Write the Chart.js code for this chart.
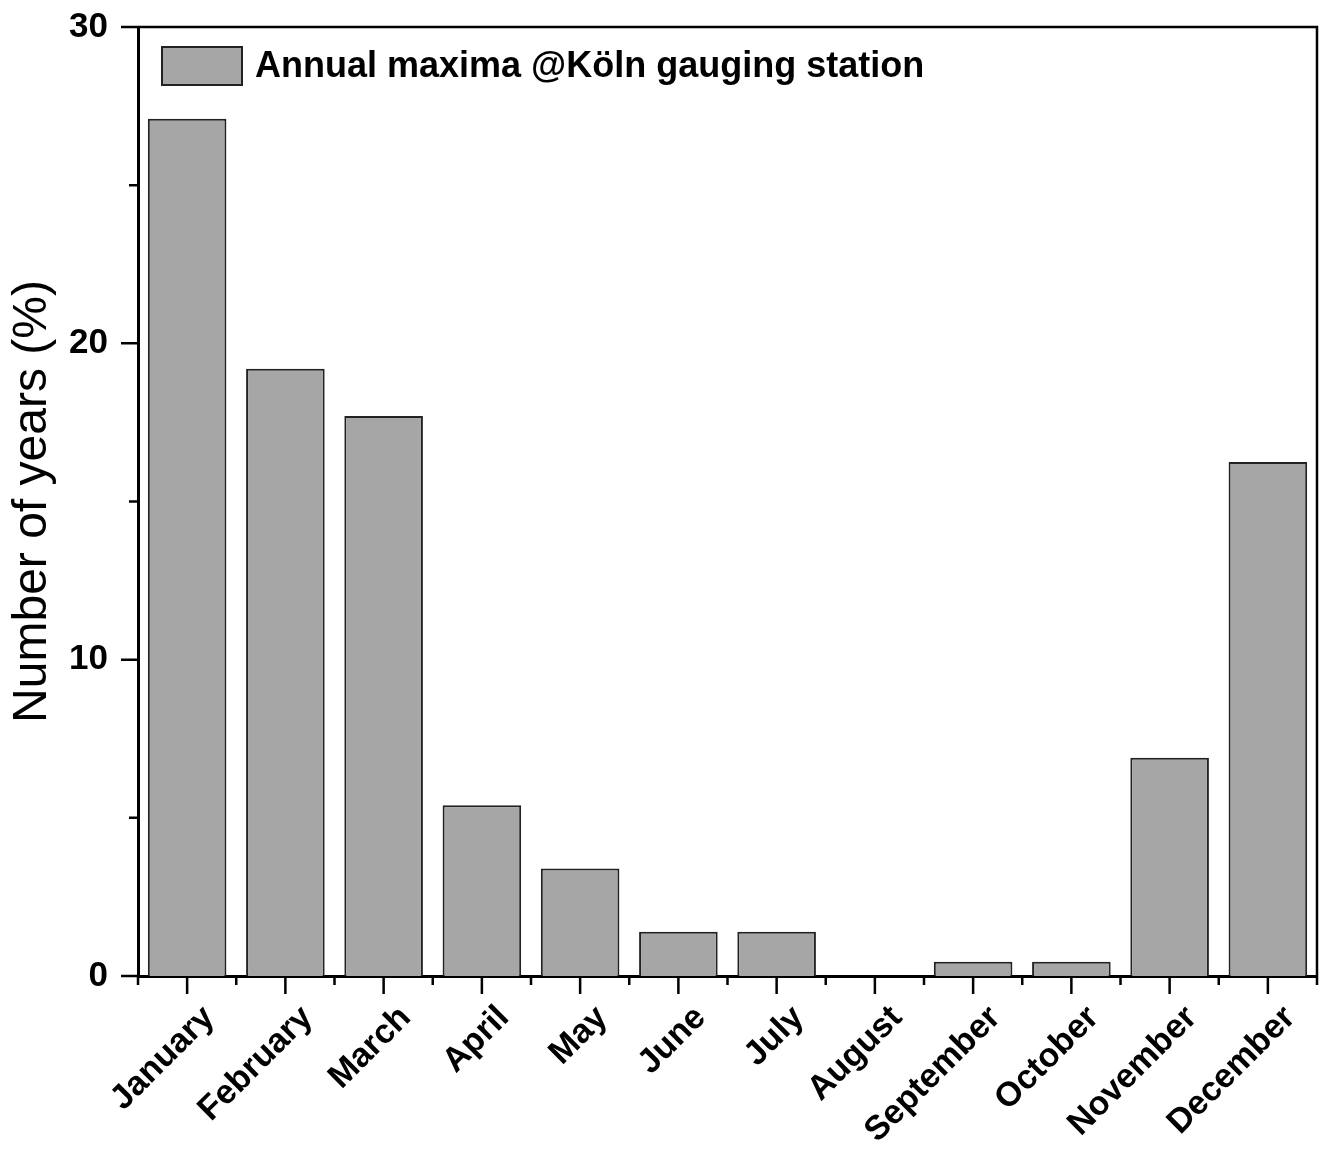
<!DOCTYPE html>
<html>
<head>
<meta charset="utf-8">
<script src="https://cdn.jsdelivr.net/npm/chart.js@4"></script>
<style>
  html, body { margin: 0; padding: 0; background: #fff; }
  #wrap { width: 1323px; height: 1149px; }
</style>
</head>
<body>
<div id="wrap"><canvas id="chart" width="1323" height="1149"></canvas></div>
<script>
// données
const months = ['January', 'February', 'March', 'April', 'May', 'June',
                'July', 'August', 'September', 'October', 'November', 'December'];
const shares = [27.1, 19.2, 17.7, 5.4, 3.4, 1.4, 1.4, 0, 0.45, 0.45, 6.9, 16.25];
const seriesLabel = 'Annual maxima @Köln gauging station';
const yMajorTicks = [0, 10, 20, 30];
const yMinorTicks = [5, 15, 25];

const FONT = "'Liberation Sans', Arial, Helvetica, sans-serif";

// axes façon Origin : cadre, graduations majeures / mineures vers l'extérieur
const frameTicks = {
    id: 'frameTicks',
    afterDraw(chart) {
        const ctx = chart.ctx;
        const a = chart.chartArea;
        const x = chart.scales.x;
        const y = chart.scales.y;
        ctx.save();
        ctx.strokeStyle = '#000';
        ctx.lineCap = 'butt';

        // cadre haut et droit
        ctx.lineWidth = 2.5;
        ctx.beginPath();
        ctx.moveTo(a.left, a.top);
        ctx.lineTo(a.right, a.top);
        ctx.lineTo(a.right, a.bottom);
        ctx.stroke();

        ctx.beginPath();
        // graduations Y
        yMajorTicks.forEach(v => {
            const p = y.getPixelForValue(v);
            ctx.moveTo(a.left - 17, p);
            ctx.lineTo(a.left, p);
        });
        yMinorTicks.forEach(v => {
            const p = y.getPixelForValue(v);
            ctx.moveTo(a.left - 9, p);
            ctx.lineTo(a.left, p);
        });
        // graduations X : majeures au centre, mineures aux limites
        months.forEach((m, i) => {
            const p = x.getPixelForValue(i);
            ctx.moveTo(p, a.bottom);
            ctx.lineTo(p, a.bottom + 18);
            const b = x.getPixelForValue(i - 0.5);
            ctx.moveTo(b, a.bottom);
            ctx.lineTo(b, a.bottom + 9);
        });
        const last = x.getPixelForValue(months.length - 0.5);
        ctx.moveTo(last, a.bottom);
        ctx.lineTo(last, a.bottom + 9);
        ctx.stroke();
        ctx.restore();
    }
};

// légende dessinée dans la zone du graphique (coin haut gauche)
const innerLegend = {
    id: 'innerLegend',
    afterDraw(chart) {
        const ctx = chart.ctx;
        const a = chart.chartArea;
        const ds = chart.data.datasets[0];
        const bx = a.left + 24, by = a.top + 20, bw = 80, bh = 38;
        ctx.save();
        ctx.fillStyle = ds.backgroundColor;
        ctx.fillRect(bx, by, bw, bh);
        ctx.strokeStyle = ds.borderColor;
        ctx.lineWidth = 2;
        ctx.strokeRect(bx, by, bw, bh);
        ctx.fillStyle = '#000';
        ctx.font = 'bold 36px ' + FONT;
        ctx.textBaseline = 'middle';
        ctx.textAlign = 'left';
        ctx.fillText(ds.label, bx + bw + 13, by + bh / 2 + 1);
        ctx.restore();
    }
};

new Chart(document.getElementById('chart'), {
    type: 'bar',
    data: {
        labels: months,
        datasets: [{
            label: seriesLabel,
            data: shares,
            backgroundColor: '#a6a6a6',
            borderColor: '#222',
            borderWidth: 2,
            barPercentage: 0.8,
            categoryPercentage: 1.0
        }]
    },
    options: {
        responsive: false,
        animation: false,
        layout: { padding: { top: 27, right: 6, left: 0, bottom: 0 } },
        plugins: {
            legend: { display: false },
            tooltip: { enabled: false }
        },
        scales: {
            x: {
                offset: true,
                grid: { display: false, drawTicks: false },
                border: { display: true, color: '#000', width: 3 },
                ticks: {
                    color: '#000',
                    minRotation: 45,
                    maxRotation: 45,
                    padding: 22,
                    labelOffset: 22,
                    font: { family: FONT, size: 34, weight: 'bold' }
                },
                afterFit(scale) {
                    scale.height = 173;
                    scale.paddingLeft = 0;
                    scale.paddingRight = 0;
                }
            },
            y: {
                min: 0,
                max: 30,
                grid: { display: false, drawTicks: false },
                border: { display: true, color: '#000', width: 3 },
                ticks: {
                    stepSize: 10,
                    color: '#000',
                    padding: 30,
                    font: { family: FONT, size: 35, weight: 'bold' }
                },
                title: {
                    display: true,
                    text: 'Number of years (%)',
                    color: '#000',
                    padding: { top: 4, bottom: 0 },
                    font: { family: FONT, size: 48, weight: 'normal' }
                },
                afterFit(scale) {
                    scale.width = 138;
                    scale.paddingTop = 0;
                    scale.paddingBottom = 0;
                }
            }
        }
    },
    plugins: [frameTicks, innerLegend]
});
</script>
</body>
</html>
